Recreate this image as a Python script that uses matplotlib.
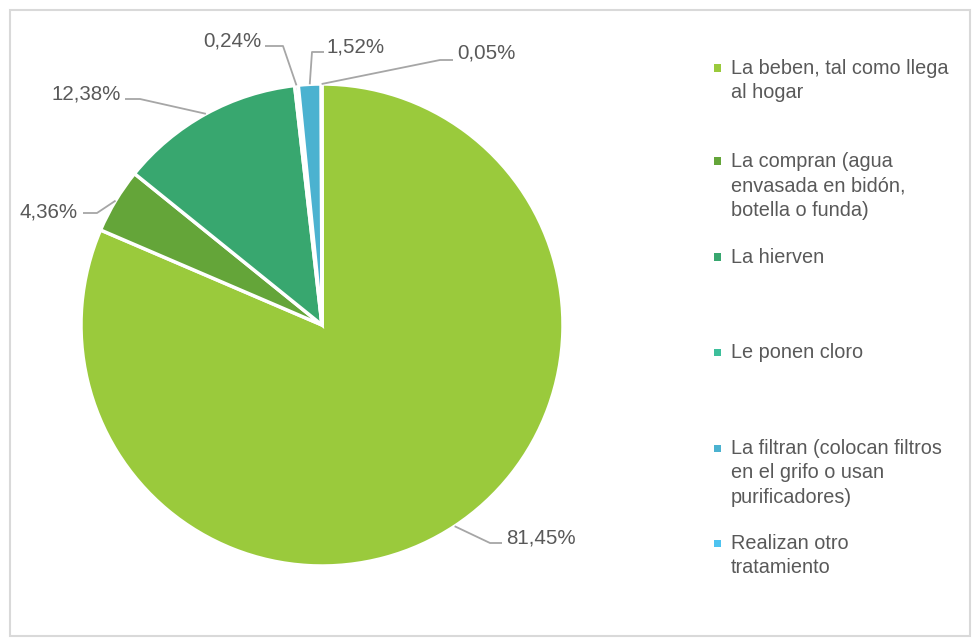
import numpy as np
import matplotlib
matplotlib.use("Agg")
import matplotlib.pyplot as plt
from matplotlib.patches import Rectangle

# datos del grafico
categorias = [
    "La beben, tal como llega\nal hogar",
    "La compran (agua\nenvasada en bidón,\nbotella o funda)",
    "La hierven",
    "Le ponen cloro",
    "La filtran (colocan filtros\nen el grifo o usan\npurificadores)",
    "Realizan otro\ntratamiento",
]
porcentajes = [81.45, 4.36, 12.38, 0.24, 1.52, 0.05]
etiquetas = ["81,45%", "4,36%", "12,38%", "0,24%", "1,52%", "0,05%"]
colores = ["#9ACA3C", "#64A539", "#38A76F", "#3DBF9B", "#4BB2D0", "#4EC3F0"]

W, H = 974, 644
CX, CY, R = 322, 325, 241          # centro y radio del pastel en pixeles
TXT = "#595959"
FONT = "Liberation Sans"
FS_LAB = 14.8
FS_LEY = 14.3

fig = plt.figure(figsize=(W / 100, H / 100), dpi=100)
fig.add_artist(Rectangle((10 / W, 8 / H), 960 / W, 626 / H, transform=fig.transFigure,
                         fill=False, edgecolor="#D9D9D9", linewidth=1.5))

ax = fig.add_axes([(CX - R) / W, (H - CY - R) / H, 2 * R / W, 2 * R / H])
wedges, _ = ax.pie(porcentajes, colors=colores, startangle=90, counterclock=False,
                   radius=1, wedgeprops=dict(edgecolor="white", linewidth=2.5))
ax.set_xlim(-1, 1)
ax.set_ylim(-1, 1)
ax.set_aspect("equal")
ax.axis("off")


def px(x, y):
    return (x - CX) / R, (CY - y) / R


# (codo de la linea, fin de la linea, posicion del texto, alineacion)
disposicion = [
    ((490, 543), (502, 543), (506, 538), "left"),
    ((97, 213), (83, 213), (78, 212), "right"),
    ((140, 99), (125, 99), (121, 94), "right"),
    ((283, 46), (265, 46), (262, 41), "right"),
    ((312, 52), (324, 52), (327, 47), "left"),
    ((440, 60), (453, 60), (457, 53), "left"),
]

for w, lab, (codo, fin, pos, ha) in zip(wedges, etiquetas, disposicion):
    ang = np.deg2rad((w.theta1 + w.theta2) / 2)
    x0, y0 = np.cos(ang), np.sin(ang)
    xs = [x0, px(*codo)[0], px(*fin)[0]]
    ys = [y0, px(*codo)[1], px(*fin)[1]]
    ax.plot(xs, ys, color="#A6A6A6", linewidth=1.3, clip_on=False,
            solid_capstyle="butt")
    tx, ty = px(*pos)
    ax.text(tx, ty, lab, ha=ha, va="center", fontsize=FS_LAB, color=TXT,
            family=FONT, clip_on=False)

# leyenda manual
ley_y = [68, 161, 257, 352, 448, 543]
for cat, col, y in zip(categorias, colores, ley_y):
    fig.add_artist(Rectangle((714 / W, (H - y - 3.5) / H), 7 / W, 7 / H,
                             transform=fig.transFigure, facecolor=col, edgecolor="none"))
    fig.text(731 / W, (H - y + 9) / H, cat, ha="left", va="top", fontsize=FS_LEY,
             color=TXT, family=FONT, linespacing=1.36)

fig.savefig("out.png", dpi=100)
